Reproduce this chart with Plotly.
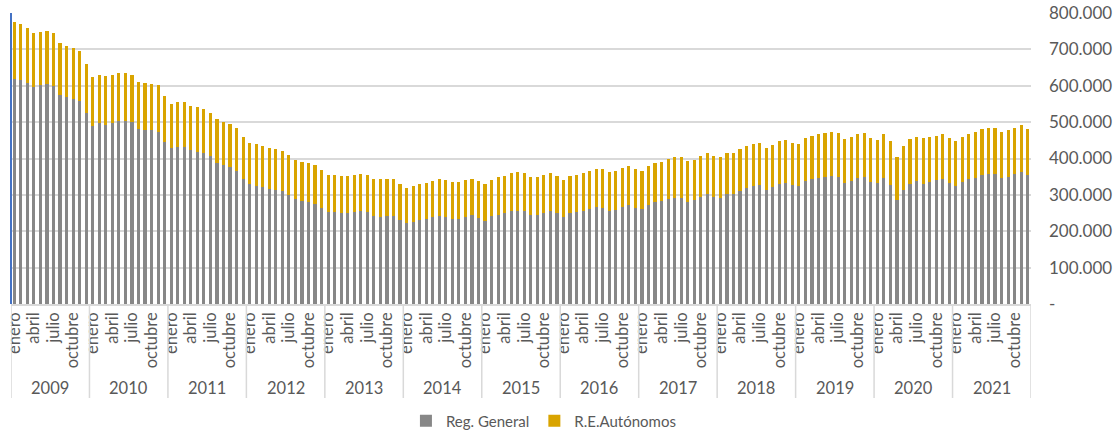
import plotly.graph_objects as go

years = [str(y) for y in range(2009, 2022)]
months = ["enero", "febrero", "marzo", "abril", "mayo", "junio", "julio",
          "agosto", "septiembre", "octubre", "noviembre", "diciembre"]
shown_months = ["enero", "abril", "julio", "octubre"]

# Reg. General (afiliados), monthly 2009-2021
reg_general = [
    619000, 617000, 608000, 597000, 601000, 604000, 600000, 575000, 568000, 564000, 557000, 524000,
    490000, 497000, 493000, 498000, 504000, 504000, 500000, 481000, 477000, 477000, 473000, 446000,
    428000, 433000, 431000, 424000, 419000, 416000, 408000, 388000, 381000, 376000, 365000, 343000,
    329000, 325000, 322000, 315000, 314000, 310000, 301000, 288000, 282000, 280000, 276000, 265000,
    252000, 254000, 249000, 249000, 254000, 255000, 252000, 243000, 240000, 243000, 241000, 232000,
    222000, 226000, 232000, 233000, 238000, 241000, 238000, 234000, 234000, 238000, 244000, 237000,
    229000, 241000, 246000, 249000, 257000, 257000, 255000, 246000, 246000, 249000, 255000, 249000,
    240000, 249000, 252000, 256000, 260000, 266000, 265000, 257000, 259000, 266000, 271000, 263000,
    260000, 272000, 281000, 282000, 289000, 292000, 292000, 281000, 285000, 295000, 303000, 295000,
    292000, 303000, 303000, 311000, 320000, 325000, 326000, 314000, 321000, 331000, 333000, 328000,
    325000, 338000, 345000, 347000, 349000, 353000, 350000, 333000, 339000, 347000, 350000, 336000,
    333000, 347000, 328000, 285000, 313000, 331000, 338000, 331000, 335000, 341000, 343000, 332000,
    324000, 335000, 343000, 347000, 354000, 357000, 357000, 347000, 350000, 358000, 363000, 354000,
]

# R.E.Autónomos, monthly 2009-2021
autonomos = [
    157000, 153000, 152000, 149000, 148000, 146000, 144000, 143000, 142000, 139000, 138000, 137000,
    133000, 133000, 133000, 132000, 131000, 132000, 130000, 129000, 130000, 128000, 128000, 125000,
    122000, 122000, 123000, 120000, 123000, 121000, 118000, 120000, 119000, 118000, 118000, 116000,
    113000, 114000, 113000, 113000, 111000, 110000, 110000, 108000, 108000, 108000, 105000, 103000,
    103000, 102000, 103000, 103000, 101000, 102000, 102000, 101000, 103000, 100000, 102000, 99000,
    97000, 99000, 99000, 100000, 101000, 102000, 103000, 101000, 101000, 103000, 101000, 102000,
    102000, 101000, 103000, 104000, 103000, 105000, 104000, 104000, 104000, 105000, 104000, 103000,
    102000, 104000, 104000, 104000, 105000, 105000, 106000, 106000, 106000, 108000, 108000, 107000,
    106000, 107000, 107000, 109000, 110000, 112000, 112000, 112000, 111000, 112000, 112000, 112000,
    112000, 111000, 113000, 114000, 115000, 116000, 116000, 116000, 116000, 116000, 118000, 116000,
    116000, 117000, 118000, 119000, 120000, 119000, 120000, 120000, 120000, 120000, 121000, 120000,
    119000, 120000, 120000, 119000, 121000, 122000, 122000, 124000, 123000, 122000, 123000, 124000,
    123000, 124000, 125000, 125000, 127000, 128000, 127000, 126000, 127000, 127000, 128000, 127000,
]

y_ticks = [0, 100000, 200000, 300000, 400000, 500000, 600000, 700000, 800000]
y_tick_labels = ["-", "100.000", "200.000", "300.000", "400.000",
                 "500.000", "600.000", "700.000", "800.000"]

GRAY = "#878787"
GOLD = "#D9A400"
TEXT = "#595959"
GRID = "#D9D9D9"
FONT = "Lato"

categories = [f"{m} {y}" for y in years for m in months]
tick_vals = [f"{m} {y}" for y in years for m in months if m in shown_months]
tick_text = [m for y in years for m in months if m in shown_months]

fig = go.Figure()
fig.add_trace(go.Bar(x=categories, y=reg_general, name="Reg. General",
                     marker=dict(color=GRAY, line=dict(width=0))))
fig.add_trace(go.Bar(x=categories, y=autonomos, name="R.E.Autónomos",
                     marker=dict(color=GOLD, line=dict(width=0))))

plot_top, plot_bottom = 13, 304
ph = plot_bottom - plot_top


def py(pix):
    return (plot_bottom - pix) / ph


shapes = []
for i in range(len(years) + 1):
    shapes.append(dict(type="line", xref="x", yref="paper",
                       x0=i * 12 - 0.5, x1=i * 12 - 0.5, y0=0, y1=py(398),
                       line=dict(color=GRID, width=1.5)))
# left axis line (blue)
shapes.append(dict(type="line", xref="paper", yref="paper", x0=0, x1=0,
                   y0=0, y1=1, line=dict(color="#4472C4", width=2)))

annotations = []
for i, y in enumerate(years):
    annotations.append(dict(x=i * 12 + 5.5, y=py(388), xref="x", yref="paper",
                            text=y, showarrow=False,
                            font=dict(family=FONT, size=16.5, color=TEXT),
                            xanchor="center", yanchor="middle"))

fig.update_layout(
    width=1113, height=432,
    margin=dict(l=11, r=82, t=plot_top, b=432 - plot_bottom, autoexpand=False),
    barmode="stack", bargap=0.52,
    plot_bgcolor="white", paper_bgcolor="white",
    font=dict(family=FONT, size=15, color=TEXT),
    showlegend=True,
    legend=dict(orientation="h", x=0.522, xanchor="center", y=py(421), yanchor="middle",
                font=dict(family=FONT, size=15, color=TEXT), itemwidth=30,
                traceorder="normal"),
    shapes=shapes, annotations=annotations,
)
fig.update_xaxes(type="category", categoryorder="array", categoryarray=categories,
                 range=[-0.5, len(categories) - 0.5], automargin=False,
                 tickmode="array", tickvals=tick_vals, ticktext=tick_text,
                 tickangle=-90, ticks="", showgrid=False,
                 showline=True, linecolor=GRID, linewidth=1.5,
                 tickfont=dict(family=FONT, size=16.5, color=TEXT))
fig.update_yaxes(side="right", range=[0, 800000], automargin=False,
                 tickmode="array", tickvals=y_ticks, ticktext=y_tick_labels,
                 showgrid=True, gridcolor=GRID, gridwidth=1.5,
                 zeroline=False, ticks="", ticklabelstandoff=17,
                 tickfont=dict(family=FONT, size=17, color=TEXT))

fig.write_html("out.html")
